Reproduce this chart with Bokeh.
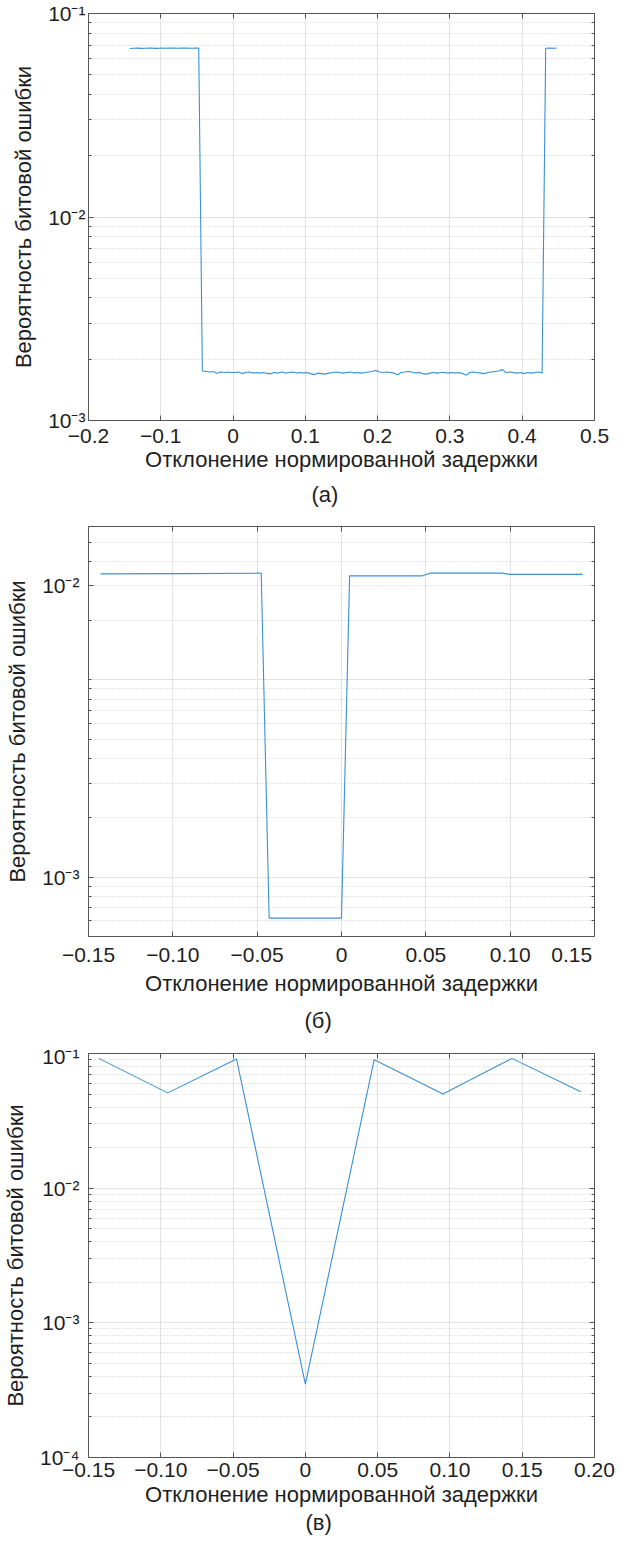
from bokeh.plotting import figure
from bokeh.models import (FixedTicker, CustomJSTickFormatter, LinearAxis, LogAxis,
                          Title)
from bokeh.layouts import column
from bokeh.embed import file_html
from bokeh.resources import INLINE

# ---------------- data ----------------
# panel (a)
a_x_left = [-0.1425, -0.1375, -0.1325, -0.1275, -0.1225, -0.1175, -0.1125, -0.1075,
            -0.1025, -0.0975, -0.0925, -0.0875, -0.0825, -0.0775, -0.0725, -0.0675,
            -0.0625, -0.0575, -0.0525, -0.0475]
a_y_left = [0.0673, 0.0675, 0.0676, 0.0674, 0.0675, 0.0677, 0.0676, 0.0674, 0.0675, 0.0676,
            0.0675, 0.0677, 0.0676, 0.0675, 0.0676, 0.0677, 0.0676, 0.0675, 0.0676, 0.0676]
a_x_mid = [-0.0425, -0.0375, -0.0325, -0.0275, -0.0225, -0.0175, -0.0125, -0.0075, -0.0025,
           0.0025, 0.0075, 0.0125, 0.0175, 0.0225, 0.0275, 0.0325, 0.0375, 0.0425, 0.0475,
           0.0525, 0.0575, 0.0625, 0.0675, 0.0725, 0.0775, 0.0825, 0.0875, 0.0925, 0.0975,
           0.1025, 0.1075, 0.1125, 0.1175, 0.1225, 0.1275, 0.1325, 0.1375, 0.1425, 0.1475,
           0.1525, 0.1575, 0.1625, 0.1675, 0.1725, 0.1775, 0.1825, 0.1875, 0.1925, 0.1975,
           0.2025, 0.2075, 0.2125, 0.2175, 0.2225, 0.2275, 0.2325, 0.2375, 0.2425, 0.2475,
           0.2525, 0.2575, 0.2625, 0.2675, 0.2725, 0.2775, 0.2825, 0.2875, 0.2925, 0.2975,
           0.3025, 0.3075, 0.3125, 0.3175, 0.3225, 0.3275, 0.3325, 0.3375, 0.3425, 0.3475,
           0.3525, 0.3575, 0.3625, 0.3675, 0.3725, 0.3775, 0.3825, 0.3875, 0.3925, 0.3975,
           0.4025, 0.4075, 0.4125, 0.4175, 0.4225, 0.4275]
a_y_mid = [0.00175, 0.00174, 0.00173, 0.00174, 0.00170, 0.00173, 0.00172, 0.00173, 0.00172,
           0.00172, 0.00173, 0.00170, 0.00172, 0.00173, 0.00171, 0.00172, 0.00171, 0.00172, 0.00170,
           0.00170, 0.00172, 0.00171, 0.00173, 0.00171, 0.00172, 0.00173, 0.00171, 0.00172, 0.00171,
           0.00172, 0.00170, 0.00168, 0.00171, 0.00170, 0.00169, 0.00171, 0.00172, 0.00173, 0.00172,
           0.00171, 0.00172, 0.00173, 0.00171, 0.00172, 0.00171, 0.00172, 0.00173, 0.00174, 0.00176,
           0.00173, 0.00172, 0.00173, 0.00172, 0.00171, 0.00168, 0.00172, 0.00173, 0.00174, 0.00173,
           0.00171, 0.00172, 0.00170, 0.00169, 0.00171, 0.00172, 0.00171, 0.00172, 0.00172, 0.00171,
           0.00172, 0.00171, 0.00172, 0.00170, 0.00167, 0.00172, 0.00173, 0.00172, 0.00171, 0.00170,
           0.00172, 0.00173, 0.00174, 0.00175, 0.00178, 0.00172, 0.00173, 0.00172, 0.00171, 0.00172,
           0.00170, 0.00172, 0.00171, 0.00172, 0.00173, 0.00171]
a_x_right = [0.4325, 0.4375, 0.4425, 0.4475]
a_y_right = [0.0675, 0.0676, 0.0675, 0.0676]

# panel (б)
b_x = [-0.1429, -0.0952, -0.0476, -0.0429, 0.0, 0.0048, 0.0476, 0.0524, 0.0952, 0.1000, 0.1429]
b_y = [0.0345, 0.0346, 0.0348, 0.00062, 0.00062, 0.0337, 0.0337, 0.0348, 0.0348, 0.0343, 0.0343]

# panel (в)
c_x = [-0.1429, -0.0952, -0.0476, 0.0, 0.0476, 0.0952, 0.1429, 0.1905]
c_y = [0.092, 0.051, 0.091, 0.00035, 0.090, 0.050, 0.092, 0.052]

# tick labels
a_xticks = [-0.2, -0.1, 0.0, 0.1, 0.2, 0.3, 0.4, 0.5]
a_xlabels = ["\u22120.2", "\u22120.1", "0", "0.1", "0.2", "0.3", "0.4", "0.5"]
b_xticks = [-0.15, -0.10, -0.05, 0.0, 0.05, 0.10, 0.15]
b_xlabels = ["\u22120.15", "\u22120.10", "\u22120.05", "0", "0.05", "0.10",
             "0.15\u00a0\u00a0\u00a0\u00a0"]
c_xticks = [-0.15, -0.10, -0.05, 0.0, 0.05, 0.10, 0.15, 0.20]
c_xlabels = ["\u22120.15", "\u22120.10", "\u22120.05", "0", "0.05", "0.10", "0.15", "0.20"]

a_yticks = [1e-3, 1e-2, 1e-1]
a_ylabels = ["10\u207b\u00b3", "10\u207b\u00b2", "10\u207b\u00b9"]
b_yticks = [1e-3, 3e-2]
b_ylabels = ["10\u207b\u00b3", "10\u207b\u00b2"]
c_yticks = [1e-4, 1e-3, 1e-2, 1e-1]
c_ylabels = ["10\u207b\u2074", "10\u207b\u00b3", "10\u207b\u00b2", "10\u207b\u00b9"]

XLABEL = "Отклонение нормированной задержки"
YLABEL = "Вероятность битовой ошибки"

# ---------------- styling ----------------
FONT = "Liberation Sans"
LINE = "#3a8fd6"
AXC = "#555555"
TXT = "#1e1e1e"
GRID = "#e2e2e2"
MGRID = "#cccccc"


def minors(e_lo, e_hi, lo=None, hi=None):
    out = []
    for e in range(e_lo, e_hi):
        for m in range(2, 10):
            v = m * 10.0 ** e
            if (lo is None or v >= lo) and (hi is None or v <= hi):
                out.append(v)
    return out


def fmt(ks, labs):
    return CustomJSTickFormatter(args=dict(ks=ks, labs=labs), code="""
        for (let i = 0; i < ks.length; i++) {
            if (Math.abs(ks[i] - tick) <= 1e-6 * Math.abs(ks[i]) + 1e-12) return labs[i];
        }
        return "";
    """)


def blank():
    return CustomJSTickFormatter(code="return '';")


def style_axis(ax, ticker, formatter, size="21px", standoff=5):
    ax.ticker = ticker
    ax.formatter = formatter
    ax.major_tick_in = 5
    ax.major_tick_out = 0
    ax.minor_tick_in = 3
    ax.minor_tick_out = 0
    ax.axis_line_color = AXC
    ax.major_tick_line_color = AXC
    ax.minor_tick_line_color = AXC
    ax.major_label_text_font = FONT
    ax.major_label_text_font_size = size
    ax.major_label_text_color = TXT
    ax.major_label_standoff = standoff
    ax.axis_label_text_font = FONT
    ax.axis_label_text_font_size = "22px"
    ax.axis_label_text_font_style = "normal"
    ax.axis_label_text_color = TXT


def panel(xs, ys, xr, yr, xt, xl, yt_axis, yl_axis, yminor_axis, yt_grid, yminor_grid,
          height, bl, br, bt, bb, ystand, xstand, xlab_stand, caption, cap_off, cap_stand):
    p = figure(width=615, height=height, x_range=xr, y_range=yr, y_axis_type="log",
               output_backend="svg", toolbar_location=None,
               min_border_left=bl, min_border_right=br, min_border_top=bt,
               min_border_bottom=bb)
    p.outline_line_color = None
    p.background_fill_color = "white"
    p.border_fill_color = "white"

    xax = p.below[0]
    yax = p.left[0]
    style_axis(xax, FixedTicker(ticks=xt), fmt(xt, xl), standoff=xstand)
    xax.axis_label = XLABEL
    xax.axis_label_standoff = xlab_stand
    style_axis(yax, FixedTicker(ticks=yt_axis, minor_ticks=yminor_axis),
               fmt(yt_axis, yl_axis), standoff=ystand)
    yax.axis_label = YLABEL
    yax.axis_label_standoff = 9

    top = LinearAxis()
    style_axis(top, FixedTicker(ticks=xt), blank(), size="1px", standoff=0)
    p.add_layout(top, "above")
    right = LogAxis()
    style_axis(right, FixedTicker(ticks=yt_grid, minor_ticks=yminor_grid), blank(),
               size="1px", standoff=0)
    p.add_layout(right, "right")

    for g in p.xgrid:
        g.ticker = FixedTicker(ticks=xt)
        g.grid_line_color = GRID
    for g in p.ygrid:
        g.ticker = FixedTicker(ticks=yt_grid, minor_ticks=yminor_grid)
        g.grid_line_color = GRID
        g.minor_grid_line_color = MGRID
        g.minor_grid_line_dash = "1 2"

    p.line(xs, ys, line_color=LINE, line_width=1.1)

    t = Title(text=caption, align="left", offset=cap_off, text_font=FONT,
              text_font_size="22px", text_font_style="normal", text_color=TXT,
              vertical_align="top", standoff=cap_stand)
    p.add_layout(t, "below")
    return p


pa = panel(a_x_left + a_x_mid + a_x_right, a_y_left + a_y_mid + a_y_right,
           (-0.2, 0.5), (1e-3, 1e-1), a_xticks, a_xlabels,
           a_yticks, a_ylabels, minors(-3, -1), a_yticks, minors(-3, -1),
           height=519, bl=76, br=21, bt=13, bb=99, ystand=3, xstand=8, xlab_stand=1,
           caption="(а)", cap_off=223, cap_stand=15)

b_grid_major = [1e-3, 1e-2]
b_grid_minor = minors(-4, -1, lo=5.5e-4, hi=5.9e-2)
b_axis_minor = [v for v in b_grid_minor if abs(v - 3e-2) > 1e-9] + [1e-2]
pb = panel(b_x, b_y, (-0.15, 0.15), (5e-4, 6e-2), b_xticks, b_xlabels,
           b_yticks, b_ylabels, b_axis_minor, b_grid_major, b_grid_minor,
           height=525, bl=83, br=6, bt=7, bb=103, ystand=9, xstand=6, xlab_stand=2,
           caption="(б)", cap_off=216, cap_stand=19)

pc = panel(c_x, c_y, (-0.15, 0.20), (1e-4, 1e-1), c_xticks, c_xlabels,
           c_yticks, c_ylabels, minors(-4, -1), c_yticks, minors(-4, -1),
           height=495, bl=82, br=20, bt=9, bb=82, ystand=9, xstand=5, xlab_stand=2,
           caption="(в)", cap_off=217, cap_stand=0)

layout = column(pa, pb, pc, spacing=0)
open("out.html", "w").write(file_html(layout, INLINE))
